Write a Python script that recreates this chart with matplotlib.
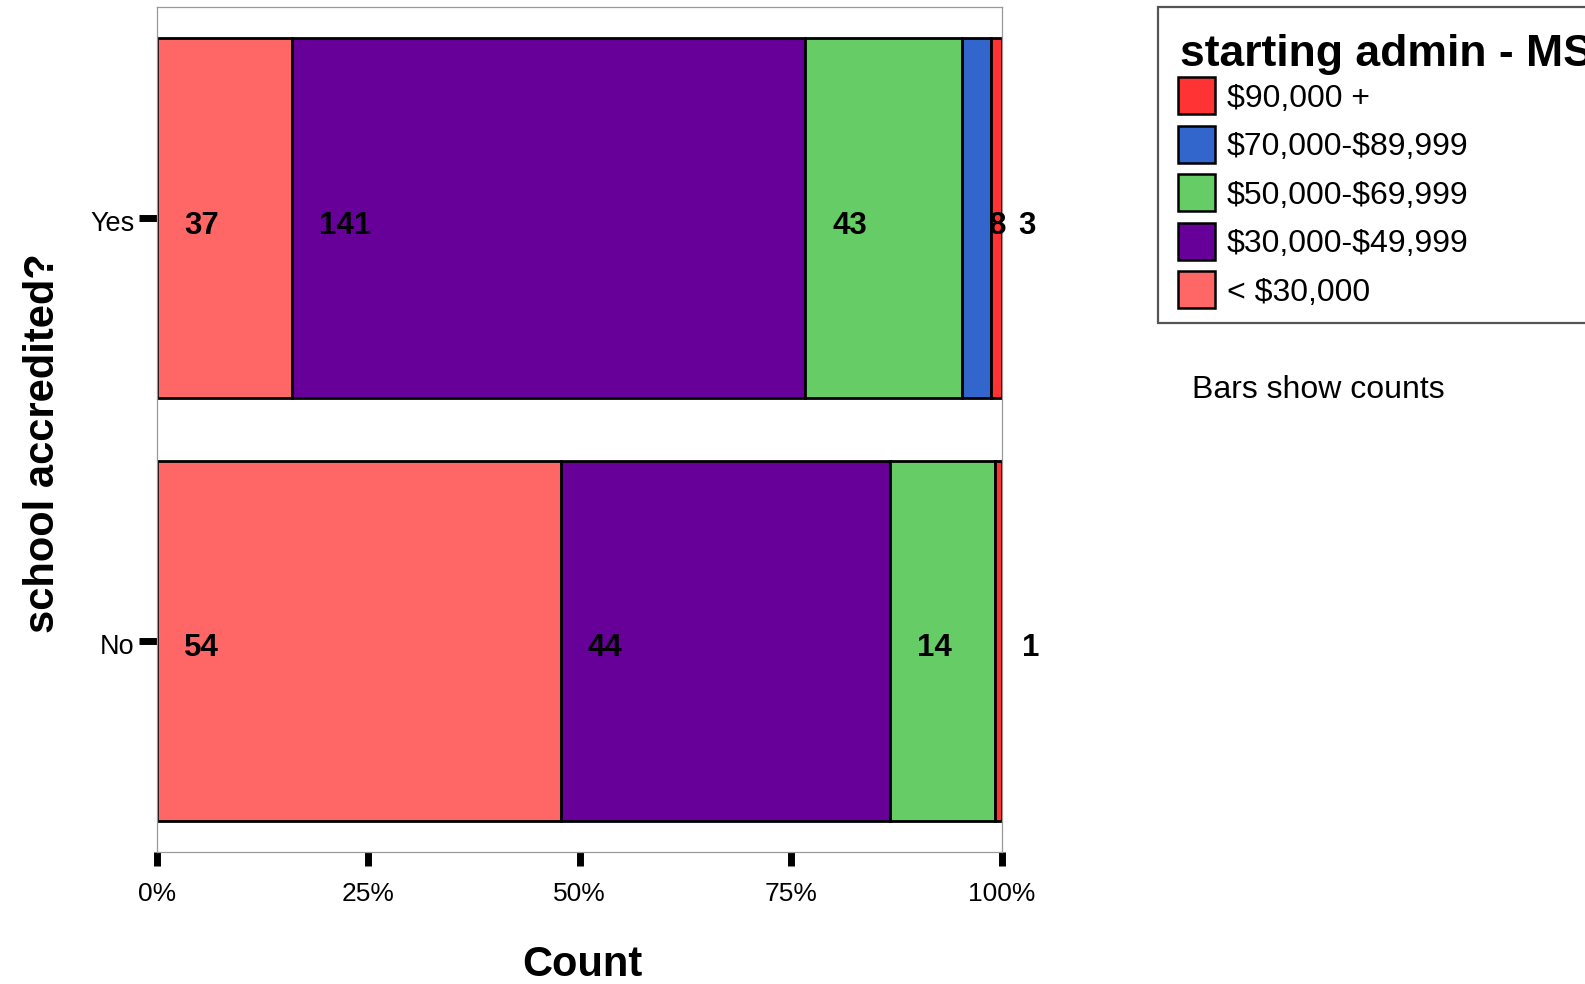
import matplotlib
matplotlib.use("Agg")
import matplotlib.pyplot as plt
from matplotlib.patches import Rectangle
from matplotlib.transforms import ScaledTranslation
import numpy as np

plt.rcParams['font.family'] = ['Liberation Sans', 'DejaVu Sans']
plt.rcParams['text.parse_math'] = False

# ---- data ----
categories = ['No', 'Yes']
salary_bands = ['< $30,000', '$30,000-$49,999', '$50,000-$69,999',
                '$70,000-$89,999', '$90,000 +']
counts_no = [54, 44, 14, 0, 1]
counts_yes = [37, 141, 43, 8, 3]
band_colors = ['#FF6666', '#660099', '#66CC66', '#3366CC', '#FF3333']
x_ticks = [0, 0.25, 0.5, 0.75, 1.0]
x_tick_labels = ['0%', '25%', '50%', '75%', '100%']
legend_title = 'starting admin - MS'
note_text = 'Bars show counts'

W, H = 1585, 984
fig = plt.figure(figsize=(W / 100, H / 100), dpi=100)


def fx(px):
    return px / W


def fy(py):
    return 1 - py / H


ax = fig.add_axes([fx(157), fy(852), fx(1002) - fx(157), fy(7) - fy(852)])

counts = [counts_no, counts_yes]
ypos = np.arange(len(categories))
for yi, row in zip(ypos, counts):
    row = np.array(row, dtype=float)
    frac = row / row.sum()
    left = np.concatenate([[0], np.cumsum(frac)[:-1]])
    for j in range(len(row)):
        if row[j] == 0:
            continue
        ax.barh(yi, frac[j], left=left[j], height=0.853, color=band_colors[j],
                edgecolor='black', linewidth=2.0, zorder=2)
        ax.text(left[j] + 0.032, yi - 0.018, f'{int(row[j])}', ha='left',
                va='center', fontsize=22.5, fontweight='bold', color='black',
                zorder=3)

ax.set_xlim(0, 1)
ax.set_ylim(-0.5, 1.5)
ax.set_xticks(x_ticks)
ax.set_xticklabels(x_tick_labels, fontsize=19)
ax.set_yticks(ypos)
ax.set_yticklabels(categories, fontsize=19.5)
ax.tick_params(axis='x', direction='out', length=10, width=5, pad=11.5, color='black')
ax.tick_params(axis='y', direction='out', length=13, width=5, pad=3, color='black')
shift = ScaledTranslation(0, -3 / 100, fig.dpi_scale_trans)
for lab in ax.get_yticklabels():
    lab.set_transform(lab.get_transform() + shift)
for sp in ax.spines.values():
    sp.set_color('#999999')
    sp.set_linewidth(0.9)

ax.set_xlabel('Count', fontsize=30, fontweight='bold')
ax.xaxis.set_label_coords((582 - 157) / 845, (852 - 965) / 845)
ax.xaxis.label.set_va('center')
ax.set_ylabel('school accredited?', fontsize=30, fontweight='bold')
ax.yaxis.set_label_coords((43 - 157) / 845, (852 - 443) / 845)
ax.yaxis.label.set_va('center')
ax.yaxis.label.set_ha('center')

# ---- legend (drawn manually to match placement) ----
fig.patches.append(Rectangle((fx(1158), fy(323)), fx(1700) - fx(1158), fy(7) - fy(323),
                             transform=fig.transFigure, facecolor='white',
                             edgecolor='#555555', linewidth=1.6))
fig.text(fx(1180), fy(66), legend_title, fontsize=32, fontweight='bold',
         ha='left', va='baseline')
order = list(range(len(salary_bands)))[::-1]
for k, j in enumerate(order):
    cy = 96 + k * 48.5
    fig.patches.append(Rectangle((fx(1178), fy(cy + 18)), fx(37), 37 / H,
                                 transform=fig.transFigure,
                                 facecolor=band_colors[j], edgecolor='black',
                                 linewidth=1.8))
    fig.text(fx(1227), fy(cy + 11), salary_bands[j], fontsize=23,
             ha='left', va='baseline')

fig.text(fx(1192), fy(398), note_text, fontsize=23, ha='left', va='baseline')

fig.savefig('out.png', dpi=100)
